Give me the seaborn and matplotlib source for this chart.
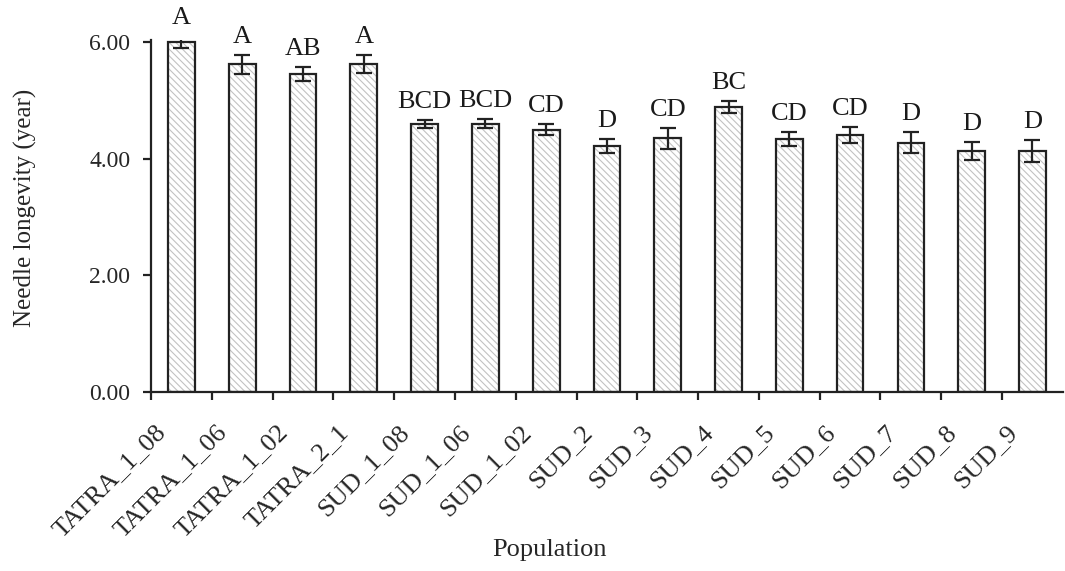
import numpy as np
import matplotlib
matplotlib.use("Agg")
import matplotlib.pyplot as plt
import matplotlib.transforms as mtransforms
import seaborn as sns
import pandas as pd

populations = ["TATRA_1_08", "TATRA_1_06", "TATRA_1_02", "TATRA_2_1", "SUD_1_08",
               "SUD_1_06", "SUD_1_02", "SUD_2", "SUD_3", "SUD_4", "SUD_5", "SUD_6",
               "SUD_7", "SUD_8", "SUD_9"]
longevity = [6.00, 5.62, 5.45, 5.62, 4.60, 4.60, 4.50, 4.22, 4.35, 4.89, 4.34, 4.41,
             4.27, 4.13, 4.13]
errors = [0.10, 0.16, 0.12, 0.15, 0.07, 0.08, 0.10, 0.12, 0.18, 0.10, 0.12, 0.14,
          0.18, 0.15, 0.19]
letters = ["A", "A", "AB", "A", "BCD", "BCD", "CD", "D", "CD", "BC", "CD", "CD",
           "D", "D", "D"]

df = pd.DataFrame({"pop": populations, "val": longevity})

sns.set_style("ticks")
plt.rcParams["font.family"] = ["Liberation Serif", "DejaVu Serif"]
plt.rcParams["hatch.linewidth"] = 0.8

fig = plt.figure(figsize=(10.65, 5.71), dpi=100)
ax = fig.add_axes([0.1418, 0.3135, 0.8562, 0.6159])

# hatched fill in light grey, then black outline on top
sns.barplot(data=df, x="pop", y="val", ax=ax, width=0.44, color="white",
            edgecolor="#c2c2c2", linewidth=0, hatch="\\\\\\\\\\")
sns.barplot(data=df, x="pop", y="val", ax=ax, width=0.44, fill=False,
            edgecolor="#222222", linewidth=1.6)

x = np.arange(len(populations))
ax.errorbar(x, longevity, yerr=errors, fmt="none", ecolor="#222222",
            elinewidth=1.6, capsize=5.5, capthick=1.6)

for xi, v, e, lab in zip(x, longevity, errors, letters):
    ax.text(xi, v + e + 0.12, lab, ha="center", va="bottom", fontsize=19,
            color="#1a1a1a")

ax.set_ylim(0, 6.03)
ax.set_xlim(-0.5, len(populations) - 0.5)
ax.set_yticks([0, 2, 4, 6])
ax.set_yticklabels(["0.00", "2.00", "4.00", "6.00"], fontsize=17)
ax.set_xticks(x)
ax.set_xticklabels(populations, rotation=45, ha="right", rotation_mode="anchor",
                   fontsize=19)
ax.set_xticks(np.arange(len(populations)) - 0.5, minor=True)
ax.tick_params(axis="x", which="major", length=0, pad=21)
ax.tick_params(axis="x", which="minor", length=6, width=1.6, direction="out",
               color="#222222")
ax.tick_params(axis="y", length=6, width=1.6, direction="out", color="#222222",
               pad=9)

offset = mtransforms.ScaledTranslation(-19 / 72, 0, fig.dpi_scale_trans)
for lab in ax.get_xticklabels():
    lab.set_transform(lab.get_transform() + offset)

for s in ["top", "right"]:
    ax.spines[s].set_visible(False)
for s in ["left", "bottom"]:
    ax.spines[s].set_linewidth(1.6)
    ax.spines[s].set_color("#222222")

ax.set_xlabel("Population", fontsize=19)
ax.set_ylabel("Needle longevity (year)", fontsize=18)
ax.xaxis.set_label_coords(0.4375, -0.418)
ax.yaxis.set_label_coords(-0.125, 0.523)

fig.savefig("out.png", dpi=100)
